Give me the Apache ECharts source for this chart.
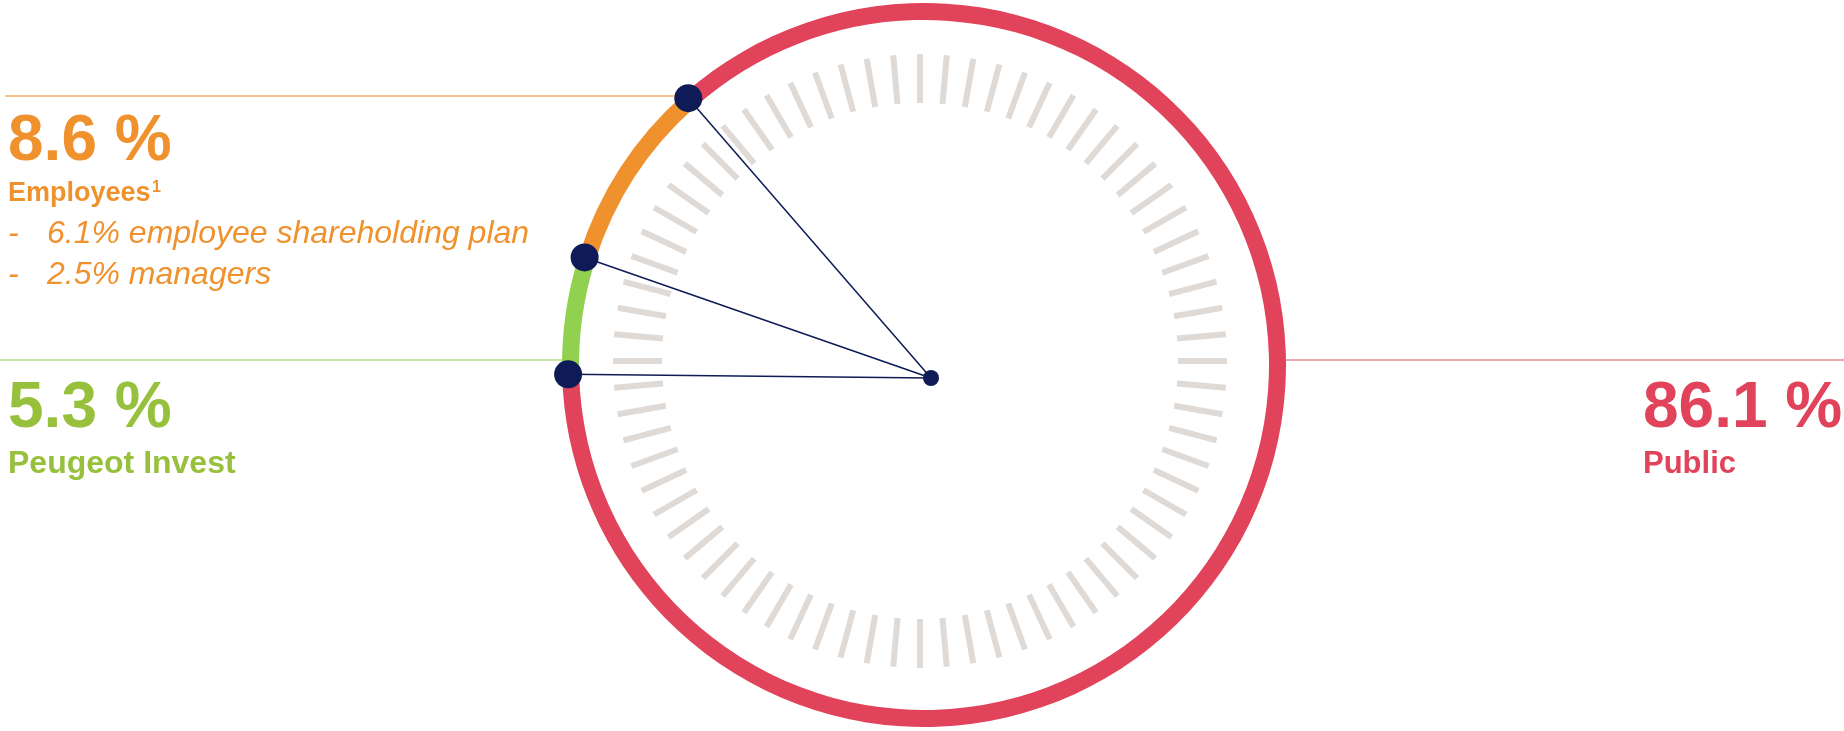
<!DOCTYPE html>
<html>
<head>
<meta charset="utf-8">
<style>
  html, body { margin: 0; padding: 0; background: #fff; }
  #chart { width: 1844px; height: 731px; }
</style>
<script src="https://cdn.jsdelivr.net/npm/echarts@6/dist/echarts.min.js"></script>
</head>
<body>
<div id="chart"></div>
<script>
// shareholders, in ring order (clockwise from the left)
var names = ['Peugeot Invest', 'Employees', 'Public'];
var shares = [5.3, 8.6, 86.1];
var colors = ['#92D050', '#EF922E', '#E1445A'];
var textColors = ['#97C03C', '#EF922E', '#E1445A'];
var employeeDetails = ['6.1% employee shareholding plan', '2.5% managers'];

var NAVY = '#0E1B57';
var FONT = '"Liberation Sans", Arial, sans-serif';
var CENTER = [924, 365];
var HUB = [931, 378];
var START = 181.5;

// boundaries between slices, as cumulative percentages
var bounds = [];
var acc = 0;
for (var i = 0; i < shares.length; i++) {
    bounds.push([1, acc]);
    acc += shares[i];
}

var pct = function (v) { return v.toFixed(1) + ' %'; };

var chart = echarts.init(document.getElementById('chart'));

var graphics = [
    // leader lines
    { type: 'line', z: 0, shape: { x1: 5, y1: 96, x2: 682, y2: 96 }, style: { stroke: '#F4AE63', lineWidth: 1.5 } },
    { type: 'line', z: 0, shape: { x1: 0, y1: 360, x2: 563, y2: 360 }, style: { stroke: '#B8DE8C', lineWidth: 1.5 } },
    { type: 'line', z: 0, shape: { x1: 1286, y1: 360, x2: 1844, y2: 360 }, style: { stroke: '#EC8A96', lineWidth: 1.5 } },

    // Employees block
    { type: 'text', x: 8, y: 142, style: { text: pct(shares[1]), font: 'bold 64px ' + FONT, fill: textColors[1], verticalAlign: 'middle' } },
    { type: 'text', x: 8, y: 194, style: { text: names[1], font: 'bold 27px ' + FONT, fill: textColors[1], verticalAlign: 'middle' } },
    { type: 'text', x: 152, y: 188, style: { text: '1', font: 'bold 16px ' + FONT, fill: textColors[1], verticalAlign: 'middle' } },

    // Peugeot Invest block
    { type: 'text', x: 8, y: 409, style: { text: pct(shares[0]), font: 'bold 64px ' + FONT, fill: textColors[0], verticalAlign: 'middle' } },
    { type: 'text', x: 8, y: 464, style: { text: names[0], font: 'bold 32px ' + FONT, fill: textColors[0], verticalAlign: 'middle' } },

    // Public block
    { type: 'text', x: 1643, y: 409, style: { text: pct(shares[2]), font: 'bold 64px ' + FONT, fill: textColors[2], verticalAlign: 'middle' } },
    { type: 'text', x: 1643, y: 464, style: { text: names[2], font: 'bold 31px ' + FONT, fill: textColors[2], verticalAlign: 'middle' } },

    // hub
    { type: 'circle', z: 10, shape: { cx: HUB[0], cy: HUB[1], r: 8 }, style: { fill: NAVY } }
];

employeeDetails.forEach(function (t, k) {
    var y = 234 + k * 41;
    graphics.push({ type: 'text', x: 8, y: y, style: { text: '-', font: 'italic 32px ' + FONT, fill: textColors[1], verticalAlign: 'middle' } });
    graphics.push({ type: 'text', x: 47, y: y, style: { text: t, font: 'italic 32px ' + FONT, fill: textColors[1], verticalAlign: 'middle' } });
});

var option = {
    backgroundColor: '#ffffff',
    animation: false,
    polar: { center: CENTER, radius: 356 },
    angleAxis: { type: 'value', min: 0, max: 100, startAngle: START, clockwise: true, show: false },
    radiusAxis: { type: 'value', min: 0, max: 1, show: false },
    graphic: graphics,
    series: [
        {
            // grey tick ring
            type: 'gauge',
            center: [920, 361],
            radius: 307,
            startAngle: 90,
            endAngle: -270,
            min: 0,
            max: 100,
            splitNumber: 72,
            silent: true,
            axisLine: { show: false, lineStyle: { width: 0 } },
            axisTick: { show: false },
            axisLabel: { show: false },
            splitLine: { show: true, distance: 0, length: 49, lineStyle: { color: '#DFDAD6', width: 6, cap: 'butt' } },
            pointer: { show: false },
            anchor: { show: false },
            progress: { show: false },
            title: { show: false },
            detail: { show: false },
            data: [{ value: 0 }]
        },
        {
            type: 'pie',
            center: CENTER,
            radius: [345, 362],
            startAngle: START,
            clockwise: true,
            silent: true,
            label: { show: false },
            labelLine: { show: false },
            itemStyle: { borderWidth: 0 },
            data: names.map(function (n, k) {
                return { name: n, value: shares[k], itemStyle: { color: colors[k] } };
            })
        },
        {
            // spokes from the hub to each slice boundary
            type: 'custom',
            coordinateSystem: 'polar',
            silent: true,
            z: 5,
            data: bounds,
            renderItem: function (params, api) {
                var p = api.coord([api.value(0), api.value(1)]);
                return {
                    type: 'group',
                    children: [
                        { type: 'line', shape: { x1: HUB[0], y1: HUB[1], x2: p[0], y2: p[1] }, style: { stroke: NAVY, lineWidth: 1.5 } },
                        { type: 'circle', shape: { cx: p[0], cy: p[1], r: 14 }, style: { fill: NAVY } }
                    ]
                };
            }
        }
    ]
};

chart.setOption(option);
</script>
</body>
</html>
